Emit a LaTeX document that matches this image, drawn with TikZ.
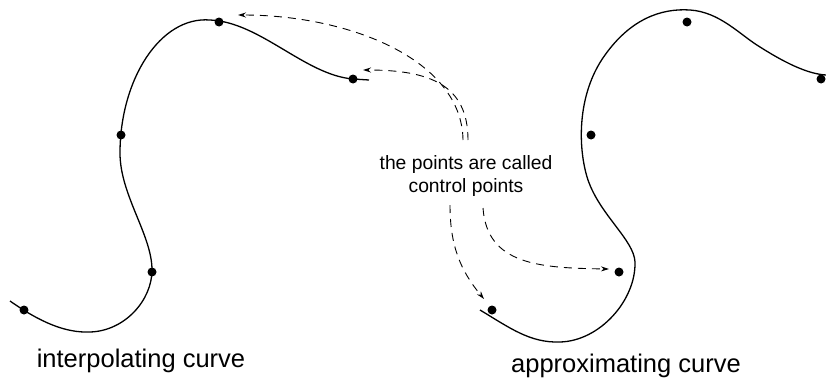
\documentclass[tikz,border=0pt]{standalone}
\usepackage{fontspec}
\setmainfont{Liberation Sans}
\usetikzlibrary{arrows.meta}
\begin{document}
\begin{tikzpicture}[x=1pt,y=-1pt,
  curve/.style={line width=1.3pt,black},
  cpt/.style={circle,fill=black,inner sep=0pt,minimum size=9pt},
  pointer/.style={dashed,dash pattern=on 8pt off 6pt,line width=0.9pt,-{Stealth[length=8pt,width=5pt]}},
  biglabel/.style={font=\fontsize{25.5}{30}\selectfont,anchor=base,inner sep=0pt},
  midlabel/.style={font=\fontsize{19.3}{23}\selectfont,align=center,inner sep=0pt}]
\useasboundingbox (0,0) rectangle (826,380);
% interpolating curve
\draw[curve] (10,301) .. controls (40,322) and (65,333) .. (90,332)
  .. controls (125,331) and (152,300) .. (152,270)
  .. controls (152,235) and (120,195) .. (120,153)
  .. controls (120,80) and (160,16) .. (210,20)
  .. controls (260,22) and (305,75) .. (353,79) -- (369,80);
\node[cpt] (p1) at (24,310) {};
\node[cpt] (p2) at (152,272) {};
\node[cpt] (p3) at (121,135) {};
\node[cpt] (p4) at (219,22) {};
\node[cpt] (p5) at (353,79) {};
% approximating curve
\draw[curve] (480,310) .. controls (510,328) and (530,343) .. (560,342)
  .. controls (600,341) and (636,300) .. (635,262)
  .. controls (634,240) and (600,215) .. (588,180)
  .. controls (578,150) and (576,95) .. (605,55)
  .. controls (630,20) and (660,8) .. (690,10)
  .. controls (720,12) and (740,35) .. (760,47)
  .. controls (790,66) and (810,74) .. (826,75);
\node[cpt] (q1) at (492,310) {};
\node[cpt] (q2) at (619,272) {};
\node[cpt] (q3) at (591,135) {};
\node[cpt] (q4) at (687,22) {};
\node[cpt] (q5) at (821,79) {};
% labels
\node[biglabel] (l1) at (141,367) {interpolating curve};
\node[biglabel] (l2) at (626,372) {approximating curve};
\node[midlabel] (mid) at (466,176) {the points are called\\control points};
% pointers
\coordinate (s1) at (463,140);
\coordinate (s2) at (468,140);
\coordinate (s3) at (450,205);
\coordinate (s4) at (483,208);
\coordinate (e1) at (238,15);
\coordinate (e2) at (363,70);
\coordinate (e3) at (484,299);
\coordinate (e4) at (609,269);
\draw[pointer] (s1) .. controls (462,60) and (350,15) .. (e1);
\draw[pointer] (s2) .. controls (468,85) and (430,70) .. (e2);
\draw[pointer] (s3) .. controls (450,245) and (460,270) .. (e3);
\draw[pointer] (s4) .. controls (487,265) and (540,268) .. (e4);
\end{tikzpicture}
\end{document}
